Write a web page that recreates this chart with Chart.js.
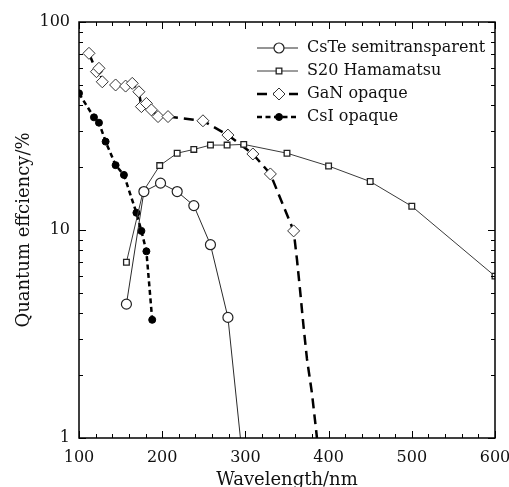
<!DOCTYPE html>
<html>
<head>
<meta charset="utf-8">
<script src="https://cdn.jsdelivr.net/npm/chart.js@4.4.1/dist/chart.umd.min.js"></script>
<style>
  html, body { margin: 0; padding: 0; background: #fff; }
  #wrap { width: 509px; height: 487px; }
</style>
</head>
<body>
<div id="wrap"><canvas id="myChart" width="509" height="487"></canvas></div>
<script>
// data (wavelength in nm, quantum efficiency in %)
var csteWavelength = [157, 178, 198, 218, 238, 258, 279];
var csteQE = [4.4, 15.3, 16.8, 15.3, 13.1, 8.5, 3.8];
// end of the CsTe line, no marker there
var csteTailWavelength = [294];
var csteTailQE = [1.0];

var s20Wavelength = [157, 177, 197, 218, 238, 258, 278, 298, 350, 400, 450, 500, 600];
var s20QE = [7.0, 15.3, 20.4, 23.4, 24.4, 25.6, 25.6, 25.8, 23.4, 20.3, 17.1, 13.0, 6.0];

var ganWavelength = [112, 121, 124, 128, 144, 156, 164, 172, 175, 181, 187, 195, 207, 249, 279, 309, 330, 358];
var ganQE = [70.7, 57.7, 59.9, 51.6, 49.8, 49.2, 50.7, 46.2, 39.2, 40.6, 37.8, 35.1, 35.1, 33.5, 28.6, 23.2, 18.6, 9.9];
// dashed GaN curve keeps falling after the last diamond
var ganTailWavelength = [362, 366, 370, 374, 380, 385, 386];
var ganTailQE = [7.2, 5.0, 3.4, 2.4, 1.64, 1.09, 1.0];

var csiWavelength = [100, 118, 124, 132, 144, 154, 169, 175, 181, 188];
var csiQE = [45.4, 34.8, 32.8, 26.6, 20.5, 18.4, 12.1, 9.9, 7.9, 3.7];

var xTickLabels = [100, 200, 300, 400, 500, 600];
var yTickLabels = [1, 10, 100];

var FONT = 'DejaVu Serif';

function pts(xs, ys) {
    return xs.map(function (x, i) { return { x: x, y: ys[i] }; });
}
// marker radius for the marked points, 0 for the tail points
function radii(n, nTail, r) {
    var out = [];
    for (var i = 0; i < n; i++) out.push(r);
    for (var j = 0; j < nTail; j++) out.push(0);
    return out;
}

var datasets = [
    {
        label: 'CsTe semitransparent',
        data: pts(csteWavelength, csteQE).concat(pts(csteTailWavelength, csteTailQE)),
        borderColor: '#2a2a2a', borderWidth: 1,
        pointStyle: 'circle', pointRadius: radii(csteWavelength.length, csteTailWavelength.length, 5),
        pointBackgroundColor: '#fff', pointBorderColor: '#222', pointBorderWidth: 1.2
    },
    {
        label: 'S20 Hamamatsu',
        data: pts(s20Wavelength, s20QE),
        borderColor: '#3a3a3a', borderWidth: 1,
        pointStyle: 'rect', pointRadius: 4,
        pointBackgroundColor: '#fff', pointBorderColor: '#222', pointBorderWidth: 1.3
    },
    {
        label: 'GaN opaque',
        data: pts(ganWavelength, ganQE).concat(pts(ganTailWavelength, ganTailQE)),
        borderColor: '#000', borderWidth: 2.5, borderDash: [10, 6],
        pointStyle: 'rectRot', pointRadius: radii(ganWavelength.length, ganTailWavelength.length, 6),
        pointBackgroundColor: '#fff', pointBorderColor: '#333', pointBorderWidth: 1
    },
    {
        label: 'CsI opaque',
        data: pts(csiWavelength, csiQE),
        borderColor: '#000', borderWidth: 2.5, borderDash: [5, 3.5],
        pointStyle: 'circle', pointRadius: 3.5,
        pointBackgroundColor: '#000', pointBorderColor: '#000', pointBorderWidth: 1
    }
];

// frame plus inward tick marks on all four sides
var frameTicks = {
    id: 'frameTicks',
    afterDraw: function (chart) {
        var ctx = chart.ctx, a = chart.chartArea;
        var xs = chart.scales.x, ys = chart.scales.y;
        ctx.save();
        ctx.strokeStyle = '#000';
        ctx.lineWidth = 1;
        ctx.beginPath();
        for (var v = 100; v <= 600; v += 20) {
            var px = Math.round(xs.getPixelForValue(v)) + 0.5;
            var len = (v % 100 === 0) ? 7 : 4;
            ctx.moveTo(px, a.bottom); ctx.lineTo(px, a.bottom - len);
            ctx.moveTo(px, a.top); ctx.lineTo(px, a.top + len);
        }
        [1, 10].forEach(function (d) {
            for (var k = 1; k <= 10; k++) {
                var py = Math.round(ys.getPixelForValue(d * k)) + 0.5;
                var l = (k === 1 || k === 10) ? 7 : 4;
                ctx.moveTo(a.left, py); ctx.lineTo(a.left + l, py);
                ctx.moveTo(a.right, py); ctx.lineTo(a.right - l, py);
            }
        });
        ctx.stroke();
        ctx.lineWidth = 1.5;
        ctx.strokeRect(a.left, a.top, a.right - a.left, a.bottom - a.top);
        ctx.restore();
    }
};

function marker(ctx, ds, x, y) {
    var r = Array.isArray(ds.pointRadius) ? ds.pointRadius[0] : ds.pointRadius;
    ctx.save();
    ctx.setLineDash([]);
    ctx.lineWidth = ds.pointBorderWidth;
    ctx.strokeStyle = ds.pointBorderColor;
    ctx.fillStyle = ds.pointBackgroundColor;
    ctx.beginPath();
    if (ds.pointStyle === 'circle') {
        ctx.arc(x, y, r, 0, Math.PI * 2);
    } else if (ds.pointStyle === 'rect') {
        var s = Math.SQRT1_2 * r;
        ctx.rect(x - s, y - s, 2 * s, 2 * s);
    } else {
        ctx.moveTo(x - r, y); ctx.lineTo(x, y - r); ctx.lineTo(x + r, y); ctx.lineTo(x, y + r); ctx.closePath();
    }
    ctx.fill();
    ctx.stroke();
    ctx.restore();
}

// legend: line sample with the marker in its middle, then the label
var lineLegend = {
    id: 'lineLegend',
    afterDatasetsDraw: function (chart) {
        var ctx = chart.ctx;
        var x0 = 257, x1 = 298, xm = 279, xt = 307;
        var rows = [48, 71, 94, 117];
        ctx.save();
        chart.data.datasets.forEach(function (ds, i) {
            var y = rows[i];
            ctx.save();
            ctx.strokeStyle = ds.borderColor;
            ctx.lineWidth = ds.borderWidth;
            ctx.setLineDash(ds.borderDash || []);
            ctx.beginPath();
            ctx.moveTo(x0, y); ctx.lineTo(x1, y);
            ctx.stroke();
            ctx.restore();
            marker(ctx, ds, xm, y);
            ctx.fillStyle = '#111';
            ctx.font = '16px "' + FONT + '"';
            ctx.textBaseline = 'middle';
            ctx.textAlign = 'left';
            ctx.fillText(ds.label, xt, y);
        });
        ctx.restore();
    }
};

var ctx = document.getElementById('myChart');
var myChart = new Chart(ctx, {
    type: 'line',
    data: { datasets: datasets },
    options: {
        responsive: false,
        animation: false,
        events: [],
        layout: { padding: { left: 0, right: 14, top: 22, bottom: 0 } },
        elements: { line: { tension: 0, fill: false } },
        scales: {
            x: {
                type: 'linear',
                min: 100, max: 600,
                grid: { display: false, drawTicks: false },
                border: { display: false },
                ticks: {
                    stepSize: 100, padding: 10, color: '#111',
                    font: { family: FONT, size: 16 },
                    callback: function (v) { return xTickLabels.indexOf(v) >= 0 ? String(v) : ''; }
                },
                title: {
                    display: true, text: 'Wavelength/nm', color: '#111',
                    font: { family: FONT, size: 18, lineHeight: 1 },
                    padding: { top: 0, bottom: -2 }
                },
                afterFit: function (s) { s.height = 49; s.paddingLeft = 0; s.paddingRight = 0; }
            },
            y: {
                type: 'logarithmic',
                min: 1, max: 100,
                grid: { display: false, drawTicks: false },
                border: { display: false },
                ticks: {
                    autoSkip: false, padding: 9, color: '#111',
                    font: { family: FONT, size: 16 },
                    callback: function (v) { return yTickLabels.indexOf(v) >= 0 ? String(v) : ''; }
                },
                title: {
                    display: true, text: 'Quantum effciency/%', color: '#111',
                    font: { family: FONT, size: 18, lineHeight: 1 },
                    padding: { top: 15, bottom: 0 }
                },
                afterFit: function (s) { s.width = 79; s.paddingTop = 0; s.paddingBottom = 0; }
            }
        },
        plugins: {
            legend: { display: false },
            tooltip: { enabled: false }
        }
    },
    plugins: [frameTicks, lineLegend]
});
</script>
</body>
</html>
